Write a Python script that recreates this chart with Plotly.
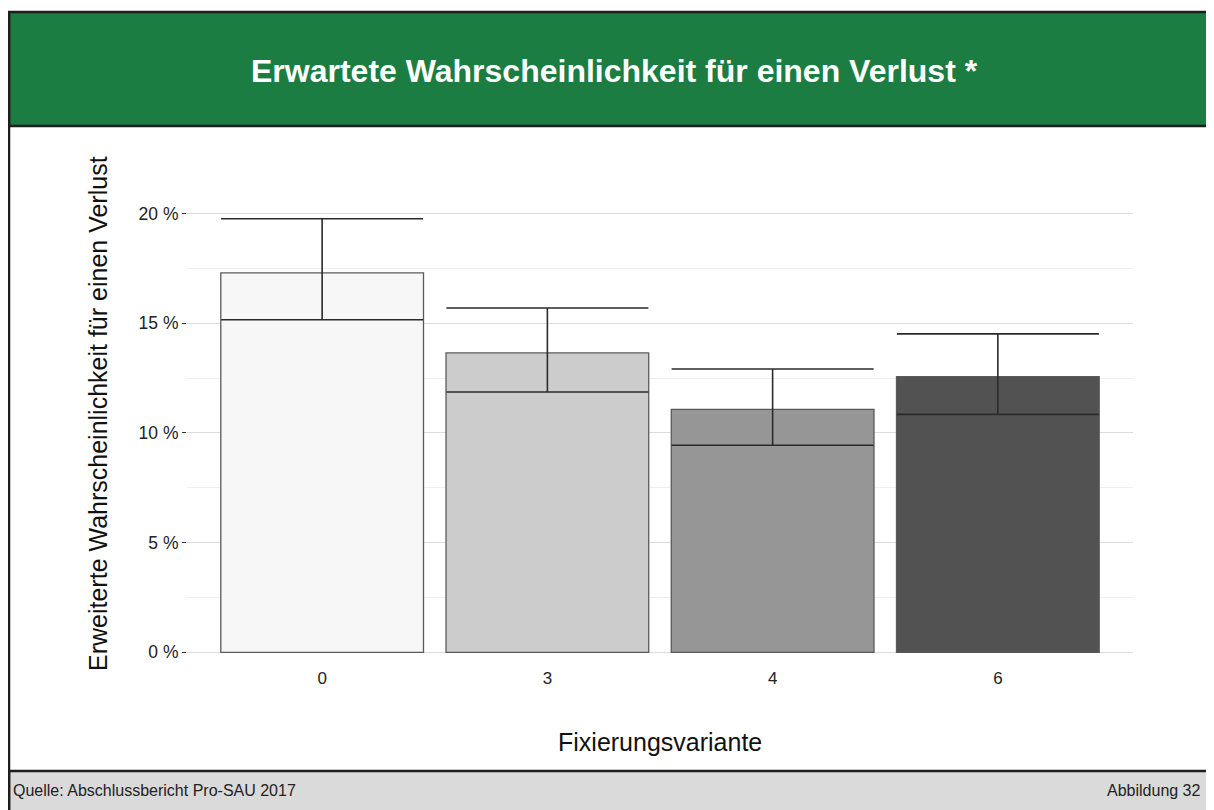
import plotly.graph_objects as go

categories = ["0", "3", "4", "6"]
values = [17.3, 13.65, 11.08, 12.57]
upper = [19.77, 15.7, 12.92, 14.52]
lower = [15.16, 11.87, 9.44, 10.85]
colors = ["#f7f7f7", "#cccccc", "#969696", "#525252"]
y_ticks = [0, 5, 10, 15, 20]
y_ticktext = ["0 %", "5 %", "10 %", "15 %", "20 %"]

title = "Erwartete Wahrscheinlichkeit für einen Verlust *"
y_title = "Erweiterte Wahrscheinlichkeit für einen Verlust"
x_title = "Fixierungsvariante"
source = "Quelle: Abschlussbericht Pro-SAU 2017"
fig_label = "Abbildung 32"

OFF = 8  # page body margin
W, H = 1214 - OFF, 810 - OFF
# plot area in screen pixels
L, R, T, B = 187, 1133, 197, 674
FONT = "Liberation Sans, Arial, Helvetica, sans-serif"


def px(x):
    return (x - L) / (R - L)


def py(y):
    return (B - y) / (B - T)


err_plus = [u - v for u, v in zip(upper, values)]
err_minus = [v - l for v, l in zip(values, lower)]

fig = go.Figure()
fig.add_trace(go.Bar(
    x=categories, y=values, width=0.9,
    marker=dict(color=colors, line=dict(color="#5a5a5a", width=1.3)),
    error_y=dict(type="data", symmetric=False, array=err_plus, arrayminus=err_minus,
                 color="#2b2b2b", thickness=1.6, width=101),
    showlegend=False, hoverinfo="x+y",
))

ymax = max(upper)
pad = ymax * 0.05

fig.update_layout(
    width=W, height=H,
    margin=dict(l=L - OFF, r=W - (R - OFF), t=T - OFF, b=H - (B - OFF), pad=0),
    paper_bgcolor="white", plot_bgcolor="white",
    font=dict(family=FONT, color="#222222"),
    bargap=0.1,
    xaxis=dict(type="category", range=[-0.6, 3.6], showgrid=False, zeroline=False,
               showline=False, ticks="", tickfont=dict(size=17, color="#222222"),
               ticklabelstandoff=-8, fixedrange=True),
    yaxis=dict(range=[-pad, ymax + pad], tickvals=y_ticks, ticktext=y_ticktext,
               showgrid=True, gridcolor="#dcdcdc", gridwidth=1.2, zeroline=False,
               showline=False, ticks="outside", ticklen=4, tickcolor="#333333",
               tickwidth=1.2, tickfont=dict(size=17.5, color="#222222"),
               minor=dict(dtick=2.5, tick0=0, showgrid=True, gridcolor="#efefef",
                          gridwidth=1, ticks=""),
               fixedrange=True),
)

shapes = []
# header
shapes.append(dict(type="rect", xref="paper", yref="paper",
                   x0=px(9), x1=px(1225), y0=py(126), y1=py(12),
                   fillcolor="#1b7d41", line=dict(color="#1e1e1e", width=2.5)))
# footer
shapes.append(dict(type="rect", xref="paper", yref="paper",
                   x0=px(9), x1=px(1225), y0=py(825), y1=py(771),
                   fillcolor="#dadada", line=dict(color="#1e1e1e", width=2.5)))
# left border
shapes.append(dict(type="line", xref="paper", yref="paper",
                   x0=px(9), x1=px(9), y0=py(825), y1=py(12),
                   line=dict(color="#1e1e1e", width=2.5)))
fig.update_layout(shapes=shapes)

ann = []
ann.append(dict(text="<b>" + title + "</b>", xref="paper", yref="paper",
                x=px(614), y=py(71), showarrow=False, xanchor="center", yanchor="middle",
                font=dict(size=32, color="white", family=FONT)))
ann.append(dict(text=y_title, xref="paper", yref="paper", x=px(98), y=py(414),
                showarrow=False, textangle=-90, xanchor="center", yanchor="middle",
                font=dict(size=25, color="#111111", family=FONT)))
ann.append(dict(text=x_title, xref="paper", yref="paper", x=px(660), y=py(742),
                showarrow=False, xanchor="center", yanchor="middle",
                font=dict(size=25, color="#111111", family=FONT)))
ann.append(dict(text=source, xref="paper", yref="paper", x=px(11), y=py(790),
                showarrow=False, xanchor="left", yanchor="middle",
                font=dict(size=16, color="#222222", family=FONT)))
ann.append(dict(text=fig_label, xref="paper", yref="paper", x=px(1203), y=py(790),
                showarrow=False, xanchor="right", yanchor="middle",
                font=dict(size=16, color="#222222", family=FONT)))
fig.update_layout(annotations=ann)

fig.write_html("out.html", config={"displayModeBar": False})
